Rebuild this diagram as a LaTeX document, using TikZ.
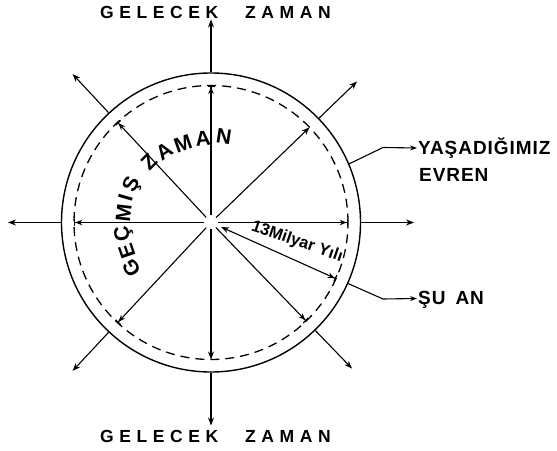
\documentclass[tikz,border=0pt]{standalone}
\usepackage{fontspec}
\setmainfont{Liberation Sans}
\usetikzlibrary{arrows.meta,calc}
\begin{document}
\begin{tikzpicture}[x=1pt,y=1pt,
  outarrow/.style={line width=1.1pt,-{Stealth[length=8pt,width=6pt]}},
  inline/.style={line width=1.1pt},
  tipbar/.style={-{Stealth[length=7pt,width=5.5pt]Bar[width=7pt,line width=1.3pt]}},
  tiponly/.style={-{Stealth[length=8pt,width=6pt]}},
  bigtxt/.style={font=\fontsize{17.5}{17.5}\selectfont\bfseries\addfontfeature{LetterSpace=32}, inner sep=0pt, anchor=base west},
  arcl/.style={font=\fontsize{21}{21}\selectfont\bfseries, inner sep=0pt},
  sidetxt/.style={font=\fontsize{19}{19}\selectfont\bfseries\addfontfeature{LetterSpace=5}, inner sep=0pt, anchor=base west},
  lead/.style={line width=1.1pt,-{Stealth[length=7pt,width=5pt]}}]
\useasboundingbox (0,0) rectangle (557,450);
\coordinate (O) at (211,227.5);
% circles
\node[circle, draw, line width=1.4pt, minimum size=299pt, inner sep=0pt] (outer) at (O) {};
\draw[line width=1.3pt, dash pattern=on 9pt off 6pt] (O) circle[radius=137];
% outer arrows
\foreach \a/\n in {90/n,270/s,180/w,0/e,133/nw,44/ne,227/sw,-46/se}{
  \coordinate (t\n) at ($(O)+(\a:203)$);
  \draw[outarrow] (outer.\a) -- (t\n);
  \coordinate (s\n) at ($(O)+(\a:7)$);
  \coordinate (d\n) at ($(O)+(\a:137)$);
}
% inner arrows
\draw[inline,tipbar] (sn) -- (dn);
\draw[inline,tiponly] (ss) -- (ds);
\draw[inline,tipbar] (sw) -- (dw);
\draw[inline,tipbar] (se) -- (de);
\draw[inline,tipbar] (snw) -- (dnw);
\draw[inline,tiponly] (sne) -- (dne);
\draw[inline,tipbar] (ssw) -- (dsw);
\draw[inline,tipbar] (sse) -- (dse);
% 13 Milyar arrow
\coordinate (ms) at ($(O)+(-24.2:11)$);
\coordinate (me) at ($(O)+(-24.2:137)$);
\draw[inline,{Stealth[length=8pt,width=6pt]}-{Stealth[length=7pt,width=5.5pt]Bar[width=7pt,line width=1.3pt]}] (ms) -- (me);
\node[font=\fontsize{16.5}{16.5}\selectfont\bfseries, inner sep=0pt, rotate=-19] (milyar) at (297,208) {13Milyar Yılı};
% arc letters
\foreach \ang/\r/\L [count=\i] in {210/92/G,199/89/E,187.5/88/Ç,173.5/88/M,164/89/I,154.5/87/Ş,135.5/87/Z,123.5/85/A,109.5/84/M,95.5/84/A,81.5/87/N}{
  \node[arcl, rotate=\ang-90] (arc\i) at ($(O)+(\ang:\r)$) {\L};
}
% top and bottom text
\node[bigtxt] (g1) at (100,431.5) {GELECEK};
\node[bigtxt] (z1) at (245,431.5) {ZAMAN};
\node[bigtxt] (g2) at (100,8) {GELECEK};
\node[bigtxt] (z2) at (245,8) {ZAMAN};
% right labels
\node[sidetxt] (yas) at (418,295) {YAŞADIĞIMIZ};
\node[sidetxt] (evren) at (419,268) {EVREN};
\node[sidetxt] (suan) at (418,145) {ŞU\hspace{10pt}AN};
\coordinate (yk) at (383,302.5);
\coordinate (ye) at ($(yas.base west)+(-1,7)$);
\draw[lead] (outer.23.5) -- (yk) -- (ye);
\coordinate (sk) at (383,151);
\coordinate (se2) at ($(suan.base west)+(-1,6.5)$);
\draw[lead] (outer.-24.2) -- (sk) -- (se2);
\end{tikzpicture}
\end{document}
